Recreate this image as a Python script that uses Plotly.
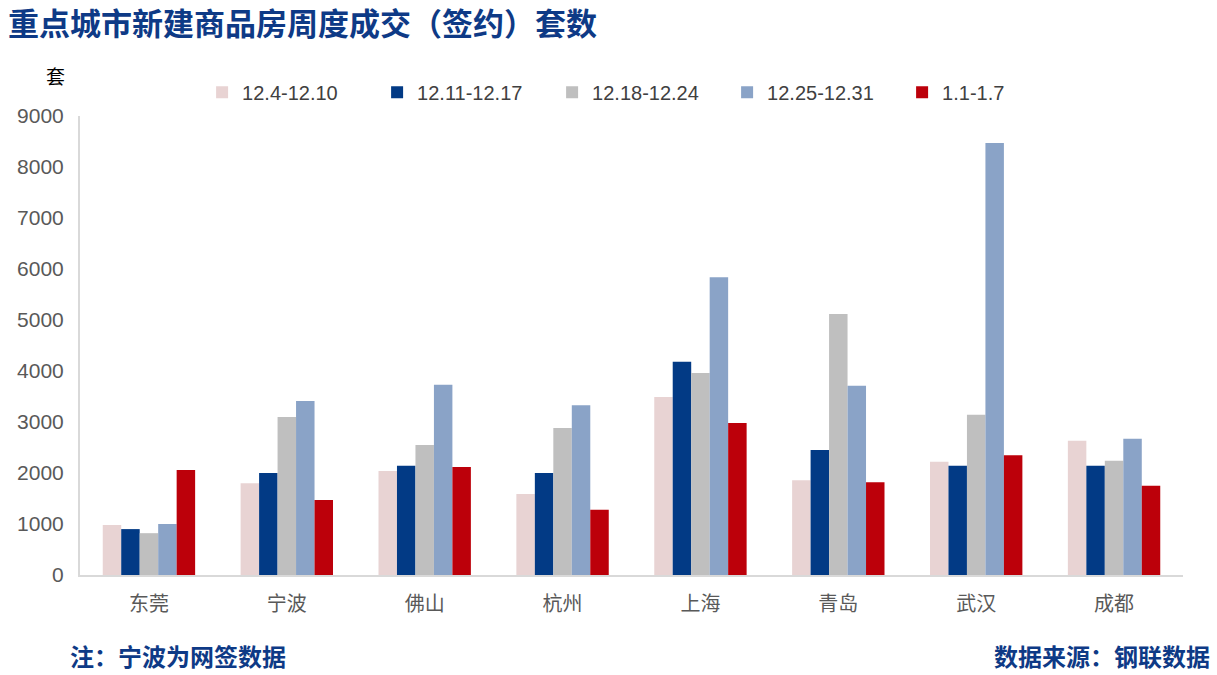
import plotly.graph_objects as go

cities = ["东莞", "宁波", "佛山", "杭州", "上海", "青岛", "武汉", "成都"]
series_names = ["12.4-12.10", "12.11-12.17", "12.18-12.24", "12.25-12.31", "1.1-1.7"]
w1 = [980, 1800, 2040, 1590, 3490, 1860, 2220, 2630]
w2 = [900, 2000, 2140, 2000, 4180, 2450, 2140, 2140]
w3 = [820, 3100, 2550, 2880, 3960, 5120, 3140, 2240]
w4 = [1000, 3410, 3730, 3330, 5840, 3710, 8470, 2670]
w5 = [2060, 1470, 2120, 1280, 2980, 1820, 2350, 1750]
series_values = [w1, w2, w3, w4, w5]
colors = ["#E8D3D3", "#023A85", "#BFBFBF", "#8AA3C7", "#BC000A"]
y_ticks = [0, 1000, 2000, 3000, 4000, 5000, 6000, 7000, 8000, 9000]

fig = go.Figure()
for name, vals, c in zip(series_names, series_values, colors):
    fig.add_trace(go.Bar(name=name, x=cities, y=vals, marker=dict(color=c, line=dict(width=0))))

cjk = "Noto Sans CJK SC"
title_color = "#0E3A86"

fig.update_layout(
    width=1217, height=675,
    margin=dict(l=80, r=34, t=116, b=100, autoexpand=False),
    paper_bgcolor="white", plot_bgcolor="white",
    barmode="group", bargap=0.33, bargroupgap=0,
    showlegend=True,
    legend=dict(orientation="h", x=0.1107, xanchor="left", y=1.052, yanchor="middle",
                font=dict(family="Liberation Sans", size=20, color="#404040"),
                entrywidth=130, entrywidthmode="pixels", traceorder="normal"),
    font=dict(family="Liberation Sans"),
)
fig.update_xaxes(showline=True, linecolor="#D9D9D9", linewidth=2, ticks="",
                 tickfont=dict(family=cjk, size=20, color="#595959"), showgrid=False,
                 ticklabelstandoff=10)
fig.update_yaxes(range=[0, 9000], tickvals=y_ticks, showline=True, linecolor="#D9D9D9", linewidth=2,
                 ticks="", showgrid=False, zeroline=False, ticklabelstandoff=10,
                 tickfont=dict(family="Liberation Sans", size=21, color="#595959"))

fig.add_annotation(text="<b>重点城市新建商品房周度成交（签约）套数</b>", xref="paper", yref="paper",
                   x=-(80 - 6) / 1103, y=1 + (116 - 22) / 459, xanchor="left", yanchor="middle", showarrow=False,
                   font=dict(family=cjk, size=31, color=title_color))
fig.add_annotation(text="套", xref="paper", yref="paper", x=-(80 - 55) / 1103, y=1 + (116 - 76) / 459,
                   xanchor="center", yanchor="middle", showarrow=False,
                   font=dict(family=cjk, size=19, color="#000000"))
fig.add_annotation(text="<b>注：宁波为网签数据</b>", xref="paper", yref="paper",
                   x=-(80 - 68) / 1103, y=-(655 - 575) / 459, xanchor="left", yanchor="middle", showarrow=False,
                   font=dict(family=cjk, size=24, color=title_color))
fig.add_annotation(text="<b>数据来源：钢联数据</b>", xref="paper", yref="paper",
                   x=(1212 - 80) / 1103, y=-(655 - 575) / 459, xanchor="right", yanchor="middle", showarrow=False,
                   font=dict(family=cjk, size=24, color=title_color))

fig.write_html("out.html")
